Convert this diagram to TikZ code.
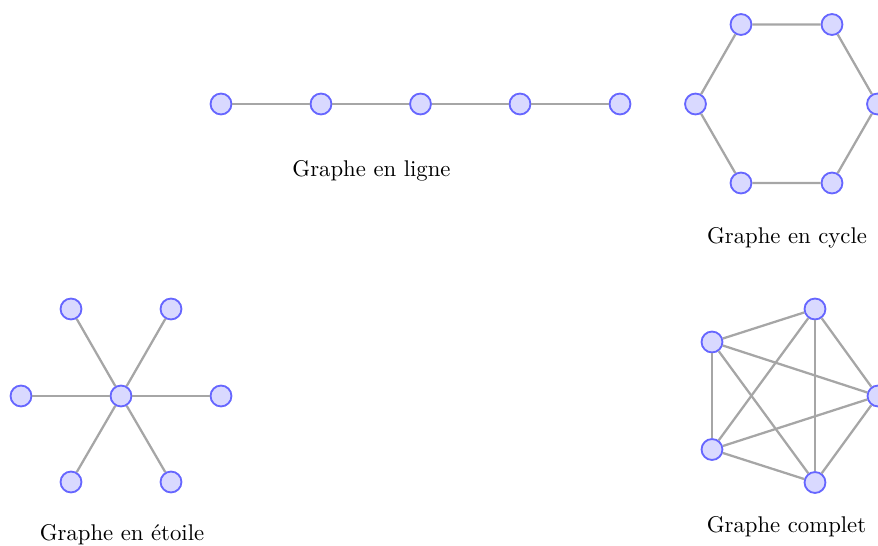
\documentclass[tikz,border=0pt]{standalone}
\begin{document}
\begin{tikzpicture}[x=0.44pt,y=-0.44pt,
  vtx/.style={circle,draw=blue!60,fill=blue!15,line width=0.8pt,minimum size=9.2pt,inner sep=0pt},
  edg/.style={draw=gray!70,line width=1pt},
  lbl/.style={inner sep=0pt}]
\useasboundingbox (0,0) rectangle (878,546);
% line graph
\node[vtx] (l1) at (221,104) {};
\node[vtx] (l2) at (321,104) {};
\node[vtx] (l3) at (420.5,104) {};
\node[vtx] (l4) at (520,104) {};
\node[vtx] (l5) at (620,104) {};
\draw[edg] (l1) -- (l2) (l2) -- (l3) (l3) -- (l4) (l4) -- (l5);
\node[lbl] (tl) at (371.5,171) {Graphe en ligne};
% cycle graph
\node[vtx] (c1) at (877.5,104) {};
\node[vtx] (c2) at (832,24.5) {};
\node[vtx] (c3) at (741,24.5) {};
\node[vtx] (c4) at (695.5,104) {};
\node[vtx] (c5) at (741,183) {};
\node[vtx] (c6) at (832,183) {};
\draw[edg] (c1) -- (c2) (c2) -- (c3) (c3) -- (c4) (c4) -- (c5) (c5) -- (c6) (c6) -- (c1);
\node[lbl] (tc) at (787,237.5) {Graphe en cycle};
% star graph
\node[vtx] (s0) at (121,396) {};
\node[vtx] (s1) at (221,396) {};
\node[vtx] (s2) at (171,309) {};
\node[vtx] (s3) at (71,309) {};
\node[vtx] (s4) at (21,396) {};
\node[vtx] (s5) at (71,482) {};
\node[vtx] (s6) at (171,482) {};
\foreach \i in {1,...,6} \draw[edg] (s0) -- (s\i);
\node[lbl] (ts) at (122,535) {Graphe en \'etoile};
% complete graph
\node[vtx] (k1) at (878,396) {};
\node[vtx] (k2) at (815,309) {};
\node[vtx] (k3) at (712,342) {};
\node[vtx] (k4) at (712,449.5) {};
\node[vtx] (k5) at (815,482.5) {};
\foreach \a/\b in {1/2,1/3,1/4,1/5,2/3,2/4,2/5,3/4,3/5,4/5} \draw[edg] (k\a) -- (k\b);
\node[lbl] (tk) at (786.5,527) {Graphe complet};
\end{tikzpicture}
\end{document}
